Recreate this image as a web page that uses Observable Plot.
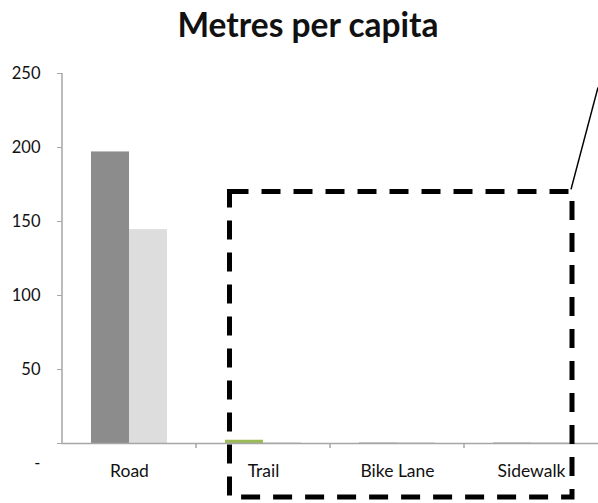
<!DOCTYPE html>
<html><head><meta charset="utf-8">
<script src="https://cdn.jsdelivr.net/npm/d3@7"></script>
<script src="https://cdn.jsdelivr.net/npm/@observablehq/plot@0.6"></script>
<style>
body{margin:0;background:#fff;}
#title{box-sizing:border-box;height:55px;padding-top:8px;padding-left:18px;line-height:33px;font-family:Lato,sans-serif;font-weight:bold;font-size:33.5px;text-align:center;color:#111;}
#chart svg{overflow:visible;}
</style></head><body>
<div id="title">Metres per capita</div>
<div id="chart"></div>
<script>
const categories = ["Road", "Trail", "Bike Lane", "Sidewalk"];
const seriesNames = ["Series A", "Series B"];
const seriesA = [197, 2.2, 0.3, 0.3];
const seriesB = [144.5, 0.6, 0.6, 0.6];
const yTicks = [0, 50, 100, 150, 200, 250];
const highlight = {category: "Trail", series: "Series A"};
const palette = {"Series A": "#8c8c8c", "Series B": "#dddddd", highlight: "#9bbb59"};
const boxTopValue = 170;

const data = categories.flatMap((c, i) => [
  {category: c, series: seriesNames[0], value: seriesA[i]},
  {category: c, series: seriesNames[1], value: seriesB[i]}
]);

const plot = Plot.plot({
  width: 598, height: 448,
  marginTop: 18, marginBottom: 60, marginLeft: 62, marginRight: 0,
  style: {fontFamily: "Lato, sans-serif", fontSize: "16px", color: "#111", background: "#fff", overflow: "visible"},
  fx: {domain: categories, padding: 0, axis: null},
  x: {domain: seriesNames, paddingInner: 0, paddingOuter: 0.72, axis: null},
  y: {domain: [0, 250], axis: null},
  color: {type: "identity"},
  marks: [
    Plot.barY(data, {
      fx: "category", x: "series", y: "value",
      fill: d => (d.category === highlight.category && d.series === highlight.series) ? palette.highlight : palette[d.series]
    }),
    Plot.ruleY([0], {stroke: "#a6a6a6", strokeWidth: 1.5}),
    Plot.axisY({ticks: yTicks, tickFormat: d => d === 0 ? "-" : d, tickSize: 5, tickPadding: 17, stroke: "#a6a6a6", label: null, fontSize: 16.5}),
    Plot.axisFx({anchor: "bottom", tickSize: 0, tickPadding: 21, fontSize: 17.5, label: null})
  ]
});
document.getElementById("chart").appendChild(plot);

const svg = d3.select(plot.tagName.toLowerCase() === "svg" ? plot : plot.querySelector("svg"));
const fx = plot.scale("fx"), xs = plot.scale("x"), ys = plot.scale("y");
const xpos = (c, s) => fx.apply(c) + xs.apply(s) - xs.range[0];
const yBase = ys.apply(0);

// y axis line
svg.append("line")
  .attr("x1", fx.range[0]).attr("x2", fx.range[0])
  .attr("y1", ys.apply(250)).attr("y2", yBase)
  .attr("stroke", "#a6a6a6").attr("stroke-width", 1.5);

// category boundary ticks
categories.slice(1).forEach(c => {
  svg.append("line")
    .attr("x1", fx.apply(c)).attr("x2", fx.apply(c))
    .attr("y1", yBase).attr("y2", yBase + 5)
    .attr("stroke", "#a6a6a6").attr("stroke-width", 1.5);
});

// shift the "-" zero label down like the original
svg.selectAll("text").filter(function() { return this.textContent === "-"; }).attr("dy", "1.2em");

// dashed highlight box
const boxLeft = xpos("Trail", seriesNames[0]) + 4.5;
const boxRight = xpos("Sidewalk", seriesNames[1]) + xs.bandwidth + 3;
const boxTop = ys.apply(boxTopValue);
const boxBottom = yBase + 54;
svg.append("rect")
  .attr("x", boxLeft).attr("y", boxTop)
  .attr("width", boxRight - boxLeft).attr("height", boxBottom - boxTop)
  .attr("fill", "none").attr("stroke", "#000").attr("stroke-width", 5)
  .attr("stroke-dasharray", "19,13");
svg.append("line")
  .attr("x1", boxRight - 1).attr("y1", boxTop - 2)
  .attr("x2", boxRight + 26).attr("y2", boxTop - 104)
  .attr("stroke", "#000").attr("stroke-width", 1.5);
</script>
</body></html>
